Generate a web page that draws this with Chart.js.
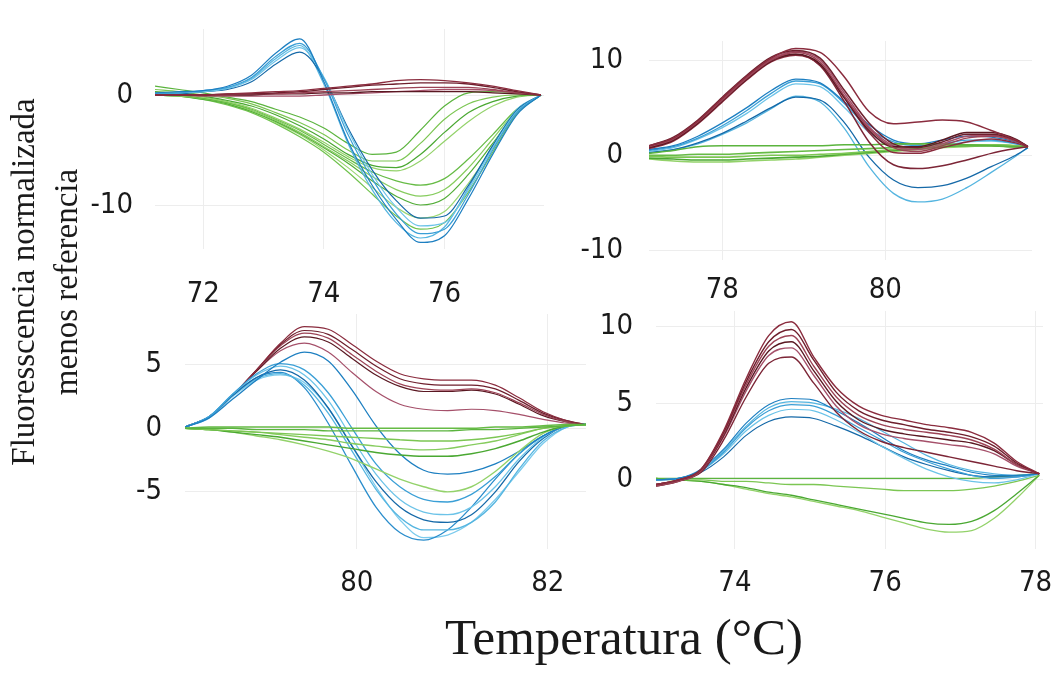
<!DOCTYPE html>
<html>
<head>
<meta charset="utf-8">
<script src="https://cdn.jsdelivr.net/npm/chart.js@4.4.1/dist/chart.umd.min.js"></script>
<style>
  html, body { margin: 0; padding: 0; background: #fff; }
  #page { position: relative; width: 1055px; height: 673px; overflow: hidden; background: #fff; }
  .panel { position: absolute; }
  /* each box = y axis (70) + plot + right margin (14) */
  #p1 { left: 85px; top: 29px; width: 473px; height: 280px; }
  #p2 { left: 579px; top: 41px; width: 467px; height: 279px; }
  #p3 { left: 115px; top: 314px; width: 485px; height: 295px; }
  #p4 { left: 586px; top: 311px; width: 471px; height: 298px; }
  .title { position: absolute; font-family: "Liberation Serif", "Times New Roman", serif; color: #1a1a1a; text-align: center; white-space: nowrap; }
  #ytitle { left: -165px; top: 239px; width: 420px; height: 86px; font-size: 33px; line-height: 43px; transform: rotate(-90deg); }
  #xtitle { left: 374px; top: 612px; width: 500px; font-size: 51px; line-height: 51px; }
</style>
</head>
<body>
<div id="page">
  <div class="panel" id="p1"><canvas id="c1"></canvas></div>
  <div class="panel" id="p2"><canvas id="c2"></canvas></div>
  <div class="panel" id="p3"><canvas id="c3"></canvas></div>
  <div class="panel" id="p4"><canvas id="c4"></canvas></div>
  <div class="title" id="ytitle">Fluoresscencia normalizada<br>menos referencia</div>
  <div class="title" id="xtitle">Temperatura (°C)</div>
</div>
<script>
// Panel 1 (top left)
const temps1 = [71.2, 71.6, 72.0, 72.4, 72.8, 73.2, 73.6, 74.0, 74.4, 74.8, 75.2, 75.6, 76.0, 76.4, 76.8, 77.2, 77.6];
const xTicks1 = [72, 74, 76];
const yTicks1 = [0, -10];
const blue1 = [
	[0.2, 0.3, 0.4, 0.8, 1.8, 3.8, 5.1, 1.2, -4.2, -8.2, -11.3, -13.4, -12.8, -9.4, -5.4, -1.8, 0],
	[0.1, 0.2, 0.4, 0.7, 1.6, 3.5, 4.7, 1.5, -3.6, -7.6, -10.8, -12.6, -12.2, -9.0, -5.0, -1.6, 0],
	[0.1, 0.2, 0.3, 0.6, 1.4, 3.1, 4.3, 1.6, -3.2, -7.2, -10.2, -11.9, -11.6, -8.6, -4.8, -1.5, 0],
	[0.0, 0.1, 0.3, 0.5, 1.2, 2.8, 3.9, 1.5, -3.0, -6.8, -9.6, -11.2, -11.0, -8.2, -4.6, -1.4, 0],
	[0.1, 0.2, 0.3, 0.6, 1.5, 3.3, 4.5, 1.0, -4.4, -8.6, -11.6, -13.0, -12.0, -8.4, -4.6, -1.3, 0],
];
const red1 = [
	[0, 0, 0, 0.1, 0.2, 0.3, 0.4, 0.6, 0.8, 1.0, 1.3, 1.4, 1.3, 1.1, 0.8, 0.4, 0],
	[0, 0, 0, 0.1, 0.1, 0.2, 0.3, 0.5, 0.7, 0.9, 1.0, 1.1, 1.1, 1.0, 0.7, 0.3, 0],
	[0, 0, 0, 0, 0.1, 0.1, 0.2, 0.3, 0.4, 0.5, 0.6, 0.7, 0.7, 0.7, 0.5, 0.2, 0],
	[0, 0, 0, 0, 0, 0.1, 0.1, 0.2, 0.2, 0.3, 0.3, 0.3, 0.3, 0.3, 0.2, 0.1, 0],
	[0, 0, -0.1, -0.1, -0.1, -0.1, -0.1, 0, 0.1, 0.2, 0.3, 0.4, 0.5, 0.5, 0.4, 0.2, 0],
];
const green1 = [
	[0.8, 0.5, 0.2, -0.2, -0.6, -1.3, -2.0, -3.0, -4.4, -5.4, -5.2, -3.2, -1.0, 0.2, 0.3, 0.2, 0],
	[0.5, 0.3, 0.0, -0.3, -0.8, -1.6, -2.5, -3.6, -5.0, -6.0, -6.0, -4.4, -2.2, -0.8, -0.2, 0, 0],
	[0.3, 0.2, -0.1, -0.5, -1.0, -1.8, -2.8, -4.0, -5.4, -6.4, -6.6, -5.4, -3.4, -1.6, -0.6, -0.1, 0],
	[0.2, 0.1, -0.2, -0.6, -1.2, -2.1, -3.1, -4.3, -5.6, -6.6, -6.9, -6.0, -4.2, -2.4, -1.0, -0.2, 0],
	[0.1, 0.0, -0.3, -0.7, -1.3, -2.2, -3.2, -4.5, -5.8, -7.0, -7.8, -8.2, -7.6, -5.8, -3.6, -1.3, 0],
	[0.0, -0.1, -0.3, -0.7, -1.4, -2.3, -3.4, -4.7, -6.0, -7.4, -8.6, -9.2, -8.6, -6.6, -4.0, -1.4, 0],
	[0.0, -0.1, -0.4, -0.8, -1.5, -2.4, -3.5, -4.8, -6.2, -7.8, -9.2, -10.0, -9.4, -7.2, -4.4, -1.5, 0],
	[0.1, 0.0, -0.3, -0.8, -1.5, -2.5, -3.6, -5.0, -6.6, -8.4, -10.2, -11.2, -10.6, -8.0, -4.8, -1.6, 0],
	[0.0, -0.1, -0.4, -0.9, -1.6, -2.6, -3.8, -5.2, -7.0, -9.0, -11.0, -12.2, -11.6, -8.8, -5.2, -1.7, 0],
];

// Panel 2 (top right)
const temps2 = [77.1, 77.4, 77.7, 78.0, 78.3, 78.6, 78.9, 79.2, 79.5, 79.8, 80.1, 80.4, 80.7, 81.0, 81.3, 81.6, 81.75];
const xTicks2 = [78, 80];
const yTicks2 = [10, 0, -10];
const blue2 = [
	[0.6, 1.0, 2.0, 3.4, 5.0, 6.8, 8.0, 7.6, 5.6, 3.2, 1.6, 1.2, 1.6, 2.0, 1.9, 1.4, 0.9],
	[0.5, 0.9, 1.8, 3.1, 4.7, 6.5, 7.8, 7.5, 5.4, 2.8, 1.4, 1.0, 1.2, 1.6, 1.6, 1.2, 0.9],
	[0.4, 0.8, 1.7, 2.9, 4.4, 6.2, 7.5, 7.2, 5.0, 2.4, 1.0, 0.8, 1.0, 1.4, 1.5, 1.2, 0.9],
	[0.3, 0.6, 1.3, 2.3, 3.6, 5.0, 6.1, 5.8, 3.4, -0.2, -2.6, -3.4, -3.2, -2.4, -1.2, 0.0, 0.8],
	[0.3, 0.6, 1.2, 2.2, 3.4, 4.9, 6.2, 5.6, 2.8, -1.2, -4.0, -4.9, -4.6, -3.4, -1.8, -0.1, 0.8],
];
const red2 = [
	[1.0, 1.8, 3.6, 6.0, 8.3, 10.2, 11.2, 10.8, 8.2, 4.6, 3.3, 3.5, 3.7, 3.5, 2.6, 1.6, 0.9],
	[1.0, 1.9, 3.7, 6.1, 8.4, 10.3, 11.0, 10.2, 6.8, 3.4, 1.2, 0.8, 1.4, 2.2, 2.2, 1.6, 0.9],
	[0.9, 1.7, 3.5, 5.8, 8.1, 10.0, 10.8, 9.8, 6.2, 2.8, 0.8, 0.4, 1.0, 1.8, 2.0, 1.5, 0.9],
	[0.8, 1.6, 3.4, 5.7, 8.0, 9.9, 10.6, 9.6, 6.0, 2.6, 0.9, 0.9, 1.6, 2.4, 2.4, 1.7, 0.9],
	[0.9, 1.7, 3.5, 5.9, 8.2, 10.1, 10.9, 10.0, 6.5, 3.0, 1.0, 0.6, 1.2, 2.0, 2.1, 1.5, 0.9],
	[0.8, 1.6, 3.4, 5.8, 8.1, 10.0, 10.6, 9.4, 5.6, 1.4, -1.0, -1.4, -1.1, -0.5, 0.2, 0.7, 0.9],
	[0.7, 1.5, 3.3, 5.6, 7.9, 9.8, 10.5, 9.5, 6.0, 2.4, 0.3, 0.2, 0.8, 1.4, 1.7, 1.3, 0.9],
];
const green2 = [
	[0.2, 0.5, 0.9, 1.0, 1.0, 1.0, 1.0, 1.0, 1.1, 1.1, 1.2, 1.2, 1.2, 1.1, 1.0, 0.9, 0.9],
	[-0.1, -0.2, -0.2, -0.2, -0.1, 0, 0, 0.1, 0.2, 0.4, 0.6, 0.8, 1.0, 1.1, 1.1, 1.0, 0.9],
	[-0.3, -0.4, -0.5, -0.5, -0.4, -0.3, -0.2, -0.1, 0.1, 0.3, 0.5, 0.7, 0.9, 1.0, 1.0, 0.9, 0.9],
	[-0.4, -0.6, -0.7, -0.7, -0.6, -0.5, -0.4, -0.2, 0, 0.2, 0.4, 0.6, 0.8, 0.9, 1.0, 0.9, 0.9],
	[0.0, 0.0, 0.1, 0.1, 0.2, 0.3, 0.4, 0.5, 0.6, 0.7, 0.8, 0.9, 1.0, 1.1, 1.1, 1.0, 0.9],
];

// Panel 3 (bottom left)
const temps3 = [78.2, 78.45, 78.7, 78.95, 79.2, 79.45, 79.7, 79.95, 80.2, 80.45, 80.7, 80.95, 81.2, 81.45, 81.7, 81.95, 82.2, 82.4];
const xTicks3 = [80, 82];
const yTicks3 = [5, 0, -5];
const blue3 = [
	[0.1, 0.8, 2.3, 3.8, 5.2, 6.0, 5.3, 3.0, 0.2, -2.0, -3.3, -3.6, -3.4, -2.8, -1.8, -0.6, 0.2, 0.3],
	[0.1, 0.9, 2.7, 4.3, 5.1, 4.6, 2.8, 0.0, -2.8, -4.6, -5.6, -5.8, -5.2, -3.8, -2.0, -0.6, 0.2, 0.3],
	[0.1, 0.9, 2.7, 4.2, 4.9, 4.2, 2.2, -0.8, -3.6, -5.6, -6.6, -6.8, -6.2, -4.6, -2.4, -0.7, 0.2, 0.3],
	[0.1, 0.9, 2.6, 4.0, 4.6, 3.8, 1.6, -1.4, -4.2, -6.2, -7.2, -7.4, -6.8, -5.0, -2.6, -0.8, 0.2, 0.3],
	[0.1, 0.9, 2.6, 3.9, 4.3, 3.4, 1.2, -1.8, -4.8, -7.0, -8.0, -8.0, -7.4, -5.8, -3.2, -1.0, 0.1, 0.3],
	[0.1, 0.9, 2.6, 4.0, 4.4, 3.2, 0.4, -3.0, -6.2, -8.2, -8.8, -8.0, -6.2, -4.0, -2.0, -0.6, 0.2, 0.3],
	[0.1, 0.8, 2.5, 3.8, 4.2, 3.6, 1.6, -1.4, -4.6, -7.2, -8.6, -8.4, -7.4, -5.6, -3.4, -1.2, 0.1, 0.3],
];
const red3 = [
	[0.1, 0.9, 2.6, 4.6, 6.7, 8.0, 7.8, 6.6, 5.3, 4.3, 3.9, 3.8, 3.8, 3.4, 2.4, 1.3, 0.6, 0.3],
	[0.1, 0.9, 2.6, 4.6, 6.6, 7.7, 7.4, 6.2, 4.9, 3.9, 3.5, 3.4, 3.4, 3.1, 2.2, 1.2, 0.6, 0.3],
	[0.1, 0.9, 2.6, 4.6, 6.5, 7.5, 7.1, 5.8, 4.5, 3.5, 3.1, 3.0, 3.1, 2.8, 2.0, 1.1, 0.5, 0.3],
	[0.1, 0.9, 2.6, 4.5, 6.3, 7.2, 6.8, 5.5, 4.2, 3.3, 2.9, 2.9, 3.0, 2.7, 1.9, 1.0, 0.5, 0.3],
	[0.1, 0.9, 2.6, 4.5, 6.1, 6.7, 6.0, 4.4, 2.9, 1.9, 1.5, 1.4, 1.5, 1.4, 1.1, 0.7, 0.4, 0.3],
];
const green3 = [
	[0, 0, 0, -0.1, -0.1, -0.1, -0.2, -0.2, -0.2, -0.2, -0.2, -0.2, -0.1, -0.1, 0, 0.1, 0.2, 0.3],
	[0, -0.1, -0.2, -0.3, -0.4, -0.5, -0.6, -0.7, -0.8, -0.9, -1.0, -1.0, -0.9, -0.7, -0.4, 0, 0.2, 0.3],
	[0, -0.1, -0.3, -0.5, -0.7, -1.0, -1.3, -1.6, -1.9, -2.1, -2.2, -2.2, -2.0, -1.6, -1.0, -0.3, 0.2, 0.3],
	[0, -0.1, -0.3, -0.6, -0.9, -1.3, -1.8, -2.4, -3.2, -4.0, -4.6, -5.0, -4.6, -3.4, -1.8, -0.4, 0.2, 0.3],
	[0, 0.1, 0.1, 0.1, 0.1, 0.1, 0.1, 0, 0, 0, 0, 0, 0, 0.1, 0.1, 0.2, 0.3, 0.3],
	[0, -0.1, -0.2, -0.3, -0.5, -0.7, -0.9, -1.2, -1.4, -1.6, -1.7, -1.6, -1.3, -1.0, -0.5, 0, 0.2, 0.3],
];

// Panel 4 (bottom right)
const temps4 = [72.95, 73.25, 73.55, 73.85, 74.15, 74.45, 74.75, 75.05, 75.35, 75.65, 75.95, 76.25, 76.55, 76.85, 77.15, 77.45, 77.75, 78.05];
const xTicks4 = [74, 76, 78];
const yTicks4 = [10, 5, 0];
const blue4 = [
	[0.0, 0.1, 0.7, 2.0, 3.7, 4.9, 5.3, 5.2, 4.5, 3.7, 2.8, 1.9, 1.3, 0.9, 0.5, 0.3, 0.3, 0.4],
	[0.0, 0.1, 0.6, 1.8, 3.4, 4.5, 4.9, 4.8, 4.2, 3.4, 2.6, 1.8, 1.2, 0.7, 0.3, 0.1, 0.2, 0.4],
	[0.0, 0.1, 0.6, 1.7, 3.2, 4.2, 4.6, 4.5, 3.9, 3.1, 2.2, 1.4, 0.7, 0.2, -0.1, -0.2, 0.0, 0.4],
	[0.0, 0.1, 0.5, 1.5, 2.9, 3.8, 4.1, 4.0, 3.5, 2.9, 2.2, 1.5, 1.0, 0.6, 0.3, 0.2, 0.2, 0.4],
	[0.0, 0.1, 0.6, 1.9, 3.5, 4.7, 5.1, 5.0, 4.6, 4.0, 3.2, 2.4, 1.6, 1.0, 0.6, 0.4, 0.3, 0.4],
];
const red4 = [
	[-0.3, 0.0, 0.7, 3.2, 6.6, 9.4, 10.3, 8.0, 6.0, 4.8, 4.2, 3.9, 3.6, 3.4, 3.1, 2.4, 1.2, 0.4],
	[-0.3, 0.0, 0.7, 3.1, 6.4, 9.0, 9.8, 7.8, 5.7, 4.5, 3.9, 3.6, 3.3, 3.1, 2.8, 2.2, 1.1, 0.4],
	[-0.4, -0.1, 0.6, 3.0, 6.2, 8.7, 9.4, 7.4, 5.4, 4.2, 3.6, 3.3, 3.1, 2.9, 2.6, 2.0, 1.0, 0.4],
	[-0.4, -0.1, 0.6, 2.9, 6.0, 8.4, 9.0, 7.1, 5.1, 3.9, 3.3, 3.0, 2.8, 2.6, 2.4, 1.9, 1.0, 0.4],
	[-0.3, 0.0, 0.6, 2.8, 5.8, 8.1, 8.6, 6.8, 4.8, 3.6, 3.0, 2.7, 2.5, 2.3, 2.1, 1.7, 0.9, 0.4],
	[-0.3, 0.0, 0.5, 2.6, 5.4, 7.6, 8.0, 6.3, 4.4, 3.2, 2.5, 2.1, 1.8, 1.5, 1.2, 0.9, 0.6, 0.4],
];
const green4 = [
	[0.1, 0.1, 0.1, 0.1, 0.1, 0.1, 0.1, 0.1, 0.1, 0.1, 0.1, 0.1, 0.1, 0.1, 0.1, 0.2, 0.3, 0.4],
	[0.1, 0.0, 0.0, -0.1, -0.1, -0.2, -0.3, -0.3, -0.4, -0.5, -0.6, -0.7, -0.7, -0.7, -0.6, -0.4, -0.1, 0.3],
	[0.1, 0.0, -0.1, -0.3, -0.5, -0.8, -1.0, -1.3, -1.6, -1.9, -2.2, -2.5, -2.8, -2.9, -2.7, -2.0, -0.9, 0.3],
	[0.1, 0.0, -0.1, -0.3, -0.6, -0.9, -1.1, -1.4, -1.7, -2.0, -2.4, -2.8, -3.2, -3.4, -3.3, -2.5, -1.2, 0.3],
];

const BLUES = ["#1d7fc1", "#3a9fd6", "#6cc3e8", "#1569a8", "#55b5e0", "#2a8dcc", "#7ccbed"];
const REDS = ["#8a2c3e", "#6e1f2d", "#9c4356", "#5a1822", "#a5506a", "#7c2536"];
const GREENS = ["#5bb43e", "#7cc653", "#4aa832", "#93d26a", "#66bb45", "#86cc5e", "#52ad38", "#9ad673", "#6fc24c"];
const GRID = "#ededed";
const TICK_FONT = { family: "'Liberation Sans Narrow', 'Arial Narrow', 'DejaVu Sans Condensed', sans-serif", size: 29 };
const Y_AXIS_W = 70;
const X_AXIS_H = 60;
const RIGHT_GAP = 14;

// groups are listed bottom to top
function makePanel(canvasId, temps, groups, xTicks, yTicks, xRange, yRange, xPad, yPad) {
	const datasets = [];
	groups.slice().reverse().forEach((g) => {
		g.lines.forEach((vals, i) => {
			datasets.push({
				data: temps.map((t, k) => ({ x: t, y: vals[k] })),
				borderColor: g.colors[i % g.colors.length],
				borderWidth: g.width,
				pointRadius: 0,
				cubicInterpolationMode: "monotone",
				fill: false,
			});
		});
	});

	return new Chart(document.getElementById(canvasId), {
		type: "line",
		data: { datasets },
		options: {
			responsive: true,
			maintainAspectRatio: false,
			animation: false,
			layout: { padding: { top: 0, left: 0, bottom: 0, right: RIGHT_GAP } },
			plugins: { legend: { display: false }, tooltip: { enabled: false } },
			scales: {
				x: {
					type: "linear",
					min: xRange[0],
					max: xRange[1],
					afterBuildTicks: (s) => { s.ticks = xTicks.map((v) => ({ value: v })); },
					afterFit: (s) => { s.height = X_AXIS_H; s.paddingLeft = 0; s.paddingRight = 0; },
					grid: { color: GRID, drawTicks: false },
					border: { display: false },
					ticks: { font: TICK_FONT, color: "#1a1a1a", padding: xPad, maxRotation: 0, autoSkip: false },
				},
				y: {
					type: "linear",
					min: yRange[0],
					max: yRange[1],
					afterBuildTicks: (s) => { s.ticks = yTicks.map((v) => ({ value: v })); },
					afterFit: (s) => { s.width = Y_AXIS_W; s.paddingTop = 0; s.paddingBottom = 0; },
					grid: { color: GRID, drawTicks: false },
					border: { display: false },
					ticks: { font: TICK_FONT, color: "#1a1a1a", padding: yPad, autoSkip: false },
				},
			},
		},
	});
}

makePanel("c1", temps1, [
	{ lines: green1, colors: GREENS, width: 1.2 },
	{ lines: blue1, colors: BLUES, width: 1.2 },
	{ lines: red1, colors: REDS, width: 1.3 },
], xTicks1, yTicks1, [71.2, 77.65], [-14, 6], 28, 22);

makePanel("c2", temps2, [
	{ lines: blue2, colors: BLUES, width: 1.3 },
	{ lines: green2, colors: GREENS, width: 1.6 },
	{ lines: red2, colors: REDS, width: 1.5 },
], xTicks2, yTicks2, [77.1, 81.8], [-11, 12], 13, 26);

makePanel("c3", temps3, [
	{ lines: red3, colors: REDS, width: 1.2 },
	{ lines: blue3, colors: BLUES, width: 1.3 },
	{ lines: green3, colors: GREENS, width: 1.4 },
], xTicks3, yTicks3, [78.2, 82.4], [-9.5, 9], 17, 23);

makePanel("c4", temps4, [
	{ lines: green4, colors: GREENS, width: 1.3 },
	{ lines: blue4, colors: BLUES, width: 1.2 },
	{ lines: red4, colors: REDS, width: 1.4 },
], xTicks4, yTicks4, [72.95, 78.1], [-4.5, 11], 17, 23);
</script>
</body>
</html>
